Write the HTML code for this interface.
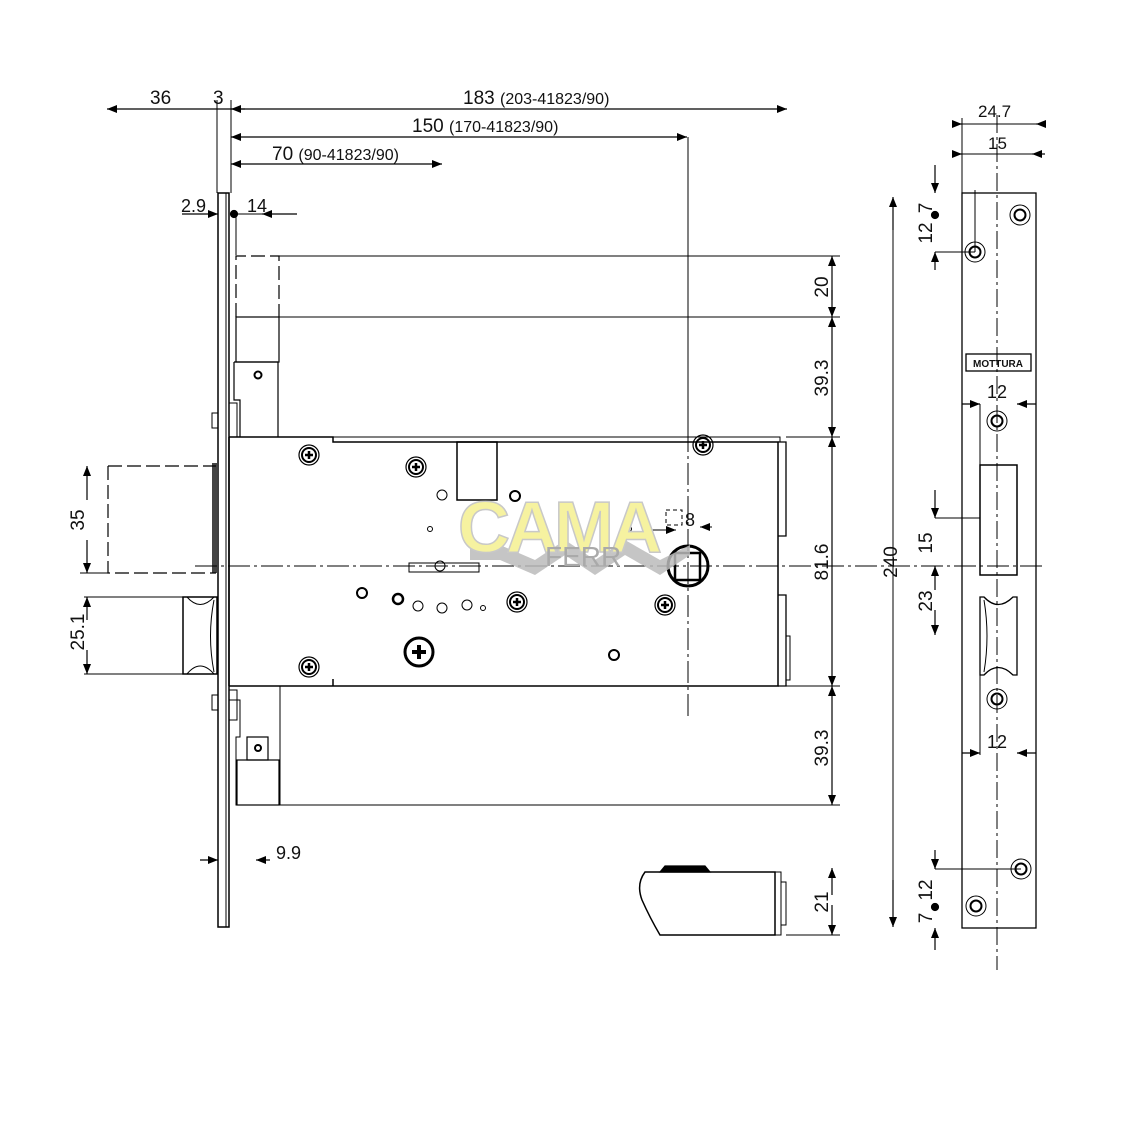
<!DOCTYPE html>
<html><head><meta charset="utf-8"><style>
html,body{margin:0;padding:0;background:#fff}
svg{display:block}
text{font-family:"Liberation Sans",sans-serif;font-size:19px;fill:#111}
</style></head><body>
<svg width="1124" height="1124" viewBox="0 0 1124 1124" xmlns="http://www.w3.org/2000/svg">
<defs>
<marker id="a" viewBox="0 0 10 10" refX="10" refY="5" markerWidth="14" markerHeight="10" markerUnits="userSpaceOnUse" orient="auto"><path d="M0,1 L10,5 L0,9z" fill="#000"/></marker>
<marker id="b" viewBox="0 0 10 10" refX="0" refY="5" markerWidth="14" markerHeight="10" markerUnits="userSpaceOnUse" orient="auto"><path d="M10,1 L0,5 L10,9z" fill="#000"/></marker>
<g id="sc"><circle r="10" fill="none" stroke="#000" stroke-width="1.2"/><circle r="7" fill="none" stroke="#000" stroke-width="2"/><path d="M-4,0H4M0,-4V4" stroke="#000" stroke-width="2.5"/></g>
<g id="hole"><circle r="10" fill="none" stroke="#000" stroke-width="1"/><circle r="5.5" fill="none" stroke="#000" stroke-width="2"/></g>
</defs>
<g stroke="#000" fill="none" stroke-width="1.2">
<line x1="217" y1="100" x2="217" y2="193" stroke-width="1"/>
<line x1="231" y1="100" x2="231" y2="193" stroke-width="1"/>
<line x1="107" y1="109" x2="217" y2="109" marker-start="url(#b)"/>
<line x1="217" y1="109" x2="787" y2="109" marker-end="url(#a)"/>
<line x1="231" y1="109" x2="245" y2="109" marker-start="url(#b)"/>
<line x1="231" y1="137" x2="687" y2="137" marker-start="url(#b)" marker-end="url(#a)"/>
<line x1="231" y1="164" x2="442" y2="164" marker-start="url(#b)" marker-end="url(#a)"/>
<line x1="688" y1="137" x2="688" y2="430" stroke-width="1"/>
<line x1="688" y1="430" x2="688" y2="716" stroke-width="1" stroke-dasharray="22,4,3,4"/>
<line x1="182" y1="214" x2="218" y2="214" marker-end="url(#a)"/>
<line x1="297" y1="214" x2="262" y2="214" marker-end="url(#a)"/>
<line x1="234" y1="214" x2="262" y2="214" stroke-width="1"/>
<circle cx="234" cy="214" r="3.5" fill="#000"/>
<line x1="236" y1="214" x2="236" y2="255" stroke-width="1"/>
<rect x="218" y="193" width="11" height="734" stroke-width="1.5"/>
<line x1="226" y1="193" x2="226" y2="927" stroke-width="1"/>
<path d="M236,317 V256 H279 V317" stroke-dasharray="14,5"/>
<rect x="236" y="317" width="43" height="45"/>
<path d="M234,362 H278 M234,362 V400 H240 V437 M278,362 V437"/>
<circle cx="258" cy="375" r="3.5" stroke-width="2"/>
<rect x="212" y="413" width="6" height="15" stroke-width="1"/>
<rect x="229" y="403" width="8" height="34" stroke-width="1"/>
<line x1="279" y1="256" x2="840" y2="256" stroke-width="1"/>
<line x1="279" y1="317" x2="840" y2="317" stroke-width="1"/>
<path d="M229,437 H333 V442 H778 V686 H333 V679 M229,686 H333" stroke-width="1.5"/>
<path d="M333,437 H780 V442 M333,686 H780" stroke-width="1"/>
<line x1="229" y1="437" x2="229" y2="686" stroke-width="1.5"/>
<path d="M778,442 H786 V536 H778 M778,595 H786 V686 H778" stroke-width="1.3"/>
<path d="M786,636 H790 V680 H786" stroke-width="1"/>
<rect x="457" y="442" width="40" height="58" stroke-width="1.5"/>
<rect x="212" y="463" width="5" height="110" fill="#444" stroke="none"/>
<path d="M229,686 H280 V805 H236 V737 H240 V700 H229" stroke-width="1"/>
<rect x="237" y="760" width="42" height="45"/>
<rect x="247" y="737" width="21" height="23"/>
<circle cx="258" cy="748" r="3" stroke-width="2"/>
<rect x="212" y="695" width="6" height="15" stroke-width="1"/>
<rect x="229" y="690" width="8" height="30" stroke-width="1"/>
<line x1="280" y1="805" x2="840" y2="805" stroke-width="1"/>
<line x1="786" y1="437" x2="840" y2="437" stroke-width="1"/>
<line x1="786" y1="686" x2="840" y2="686" stroke-width="1"/>
<line x1="832" y1="300" x2="832" y2="256" marker-end="url(#a)"/>
<line x1="832" y1="290" x2="832" y2="317" marker-end="url(#a)"/>
<line x1="832" y1="330" x2="832" y2="317" marker-end="url(#a)"/>
<line x1="832" y1="330" x2="832" y2="437" marker-end="url(#a)"/>
<line x1="832" y1="450" x2="832" y2="437" marker-end="url(#a)"/>
<line x1="832" y1="450" x2="832" y2="686" marker-end="url(#a)"/>
<line x1="832" y1="700" x2="832" y2="686" marker-end="url(#a)"/>
<line x1="832" y1="700" x2="832" y2="805" marker-end="url(#a)"/>
<path d="M108,466 H216 M108,466 V573 H216" stroke-dasharray="14,5"/>
<line x1="87" y1="500" x2="87" y2="466" marker-end="url(#a)"/>
<line x1="87" y1="540" x2="87" y2="573" marker-end="url(#a)"/>
<line x1="80" y1="573" x2="108" y2="573" stroke-width="1"/>
<rect x="183" y="597" width="34" height="77" stroke-width="1.5"/>
<path d="M187,597 Q200,612 214,597 M187,674 Q200,658 214,674 M214,600 Q207,636 214,672" stroke-width="1"/>
<line x1="84" y1="597" x2="183" y2="597" stroke-width="1"/>
<line x1="84" y1="674" x2="183" y2="674" stroke-width="1"/>
<line x1="87" y1="620" x2="87" y2="597" marker-end="url(#a)"/>
<line x1="87" y1="650" x2="87" y2="674" marker-end="url(#a)"/>
<line x1="195" y1="566" x2="1045" y2="566" stroke-width="1" stroke-dasharray="22,4,3,4"/>
<use href="#sc" x="309" y="455"/><use href="#sc" x="416" y="467"/><use href="#sc" x="703" y="445"/>
<use href="#sc" x="517" y="602"/><use href="#sc" x="665" y="605"/><use href="#sc" x="309" y="667"/>
<circle cx="442" cy="495" r="5" stroke-width="1"/><circle cx="515" cy="496" r="5" stroke-width="2"/>
<circle cx="430" cy="529" r="2.5" stroke-width="1"/>
<rect x="409" y="563" width="70" height="9" stroke-width="1"/>
<circle cx="440" cy="566" r="5" stroke-width="1"/>
<circle cx="362" cy="593" r="5" stroke-width="2"/><circle cx="398" cy="599" r="5" stroke-width="2.5"/>
<circle cx="418" cy="606" r="5" stroke-width="1"/><circle cx="442" cy="608" r="5" stroke-width="1"/>
<circle cx="467" cy="605" r="5" stroke-width="1"/><circle cx="483" cy="608" r="2.5" stroke-width="1"/>
<circle cx="419" cy="652" r="14" stroke-width="3"/>
<path d="M412,652 H426 M419,645 V659" stroke-width="4"/>
<circle cx="614" cy="655" r="5" stroke-width="2"/>
<circle cx="688" cy="566" r="20" stroke-width="3"/>
<rect x="675" y="553" width="25" height="27" stroke-width="2.5"/>
<rect x="666" y="510" width="16" height="15" stroke-width="1" stroke-dasharray="4,3"/>
<line x1="650" y1="530" x2="676" y2="530" marker-end="url(#a)" stroke-width="1"/>
<line x1="712" y1="527" x2="700" y2="527" marker-end="url(#a)" stroke-width="1"/>
<circle cx="629" cy="529" r="2.5" stroke-width="1"/>
<line x1="200" y1="860" x2="218" y2="860" marker-end="url(#a)"/>
<line x1="270" y1="860" x2="256" y2="860" marker-end="url(#a)"/>
<path d="M645,872 H775 V935 H660 Q650,918 642,900 Q636,884 645,872z" stroke-width="1.5"/>
<path d="M660,872 L665,866 H705 L710,872z" fill="#000"/>
<path d="M775,872 H781 V935 H775 M781,882 H786 V925 H781" stroke-width="1"/>
<line x1="786" y1="935" x2="840" y2="935" stroke-width="1"/>
<line x1="832" y1="895" x2="832" y2="868" marker-end="url(#a)"/>
<line x1="832" y1="905" x2="832" y2="935" marker-end="url(#a)"/>
<rect x="962" y="193" width="74" height="735" stroke-width="1.3"/>
<line x1="997" y1="115" x2="997" y2="970" stroke-width="1" stroke-dasharray="18,4,3,4"/>
<line x1="955" y1="124" x2="962" y2="124" marker-end="url(#a)"/>
<line x1="1045" y1="124" x2="1036" y2="124" marker-end="url(#a)"/>
<line x1="962" y1="124" x2="1036" y2="124" stroke-width="1"/>
<line x1="955" y1="154" x2="962" y2="154" marker-end="url(#a)"/>
<line x1="1045" y1="154" x2="1032" y2="154" marker-end="url(#a)"/>
<line x1="962" y1="154" x2="1032" y2="154" stroke-width="1"/>
<line x1="962" y1="118" x2="962" y2="193" stroke-width="1"/>
<line x1="975" y1="190" x2="975" y2="252" stroke-width="1"/>
<line x1="893" y1="230" x2="893" y2="197" marker-end="url(#a)"/>
<line x1="893" y1="880" x2="893" y2="927" marker-end="url(#a)"/>
<line x1="893" y1="230" x2="893" y2="880" stroke-width="1"/>
<line x1="935" y1="165" x2="935" y2="193" marker-end="url(#a)"/>
<line x1="935" y1="270" x2="935" y2="252" marker-end="url(#a)"/>
<line x1="935" y1="252" x2="975" y2="252" stroke-width="1"/>
<circle cx="935" cy="215" r="3.5" fill="#000"/>
<use href="#hole" x="975" y="252"/><use href="#hole" x="1020" y="215"/>
<use href="#hole" x="997" y="421"/><use href="#hole" x="997" y="699"/>
<use href="#hole" x="1021" y="869"/><use href="#hole" x="976" y="906"/>
<rect x="966" y="354" width="65" height="17" stroke-width="1.3"/>
<line x1="962" y1="404" x2="980" y2="404" marker-end="url(#a)"/>
<line x1="1036" y1="404" x2="1017" y2="404" marker-end="url(#a)"/>
<line x1="980" y1="404" x2="980" y2="466" stroke-width="1"/>
<rect x="980" y="465" width="37" height="110" stroke-width="1.5"/>
<line x1="935" y1="490" x2="935" y2="518" marker-end="url(#a)"/>
<line x1="935" y1="518" x2="980" y2="518" stroke-width="1"/>
<line x1="935" y1="590" x2="935" y2="566" marker-end="url(#a)"/>
<line x1="935" y1="610" x2="935" y2="635" marker-end="url(#a)"/>
<path d="M980,597 H984 Q998,612 1013,597 H1017 V675 H1013 Q998,660 984,675 H980z" stroke-width="1.3"/>
<path d="M984,600 Q990,636 984,672" stroke-width="1"/>
<line x1="980" y1="675" x2="980" y2="755" stroke-width="1"/>
<line x1="962" y1="753" x2="980" y2="753" marker-end="url(#a)"/>
<line x1="1036" y1="753" x2="1017" y2="753" marker-end="url(#a)"/>
<line x1="935" y1="850" x2="935" y2="869" marker-end="url(#a)"/>
<line x1="935" y1="869" x2="1021" y2="869" stroke-width="1"/>
<line x1="935" y1="950" x2="935" y2="928" marker-end="url(#a)"/>
<circle cx="935" cy="907" r="3.5" fill="#000"/>
</g>
<g>
<path d="M470,545 L500,545 L535,560 L565,540 L595,560 L625,540 L660,560 L690,545 L690,555 L660,575 L625,555 L595,575 L565,555 L535,575 L500,560 L470,560z" fill="#bbb" opacity="0.85"/>
<text x="458" y="552" style="font-size:72px;fill:#f6f2a0;stroke:#c8c8c8;stroke-width:1.5;font-weight:bold;letter-spacing:-4px">CAMA</text>
<text x="545" y="566" style="font-size:28px;fill:#aaa">FERR</text>
</g>
<text x="150" y="104">36</text>
<text x="213" y="104">3</text>
<text x="463" y="104">183 <tspan style="font-size:16px">(203-41823/90)</tspan></text>
<text x="412" y="132">150 <tspan style="font-size:16px">(170-41823/90)</tspan></text>
<text x="272" y="160">70 <tspan style="font-size:16px">(90-41823/90)</tspan></text>
<text x="181" y="212" style="font-size:18px">2.9</text>
<text x="247" y="212" style="font-size:18px">14</text>
<text x="276" y="859" style="font-size:18px">9.9</text>
<text x="685" y="526" style="font-size:18px">8</text>
<g style="font-size:19px">
<text transform="translate(828,287) rotate(-90)" text-anchor="middle">20</text>
<text transform="translate(828,378) rotate(-90)" text-anchor="middle">39.3</text>
<text transform="translate(828,562) rotate(-90)" text-anchor="middle">81.6</text>
<text transform="translate(828,748) rotate(-90)" text-anchor="middle">39.3</text>
<text transform="translate(828,902) rotate(-90)" text-anchor="middle">21</text>
<text transform="translate(84,520) rotate(-90)" text-anchor="middle">35</text>
<text transform="translate(84,632) rotate(-90)" text-anchor="middle">25.1</text>
<text transform="translate(897,562) rotate(-90)" text-anchor="middle">240</text>
<text transform="translate(932,233) rotate(-90)" text-anchor="middle">12</text>
<text transform="translate(932,208) rotate(-90)" text-anchor="middle">7</text>
<text transform="translate(932,543) rotate(-90)" text-anchor="middle">15</text>
<text transform="translate(932,601) rotate(-90)" text-anchor="middle">23</text>
<text transform="translate(932,890) rotate(-90)" text-anchor="middle">12</text>
<text transform="translate(932,918) rotate(-90)" text-anchor="middle">7</text>
</g>
<text x="978" y="117" style="font-size:17px">24.7</text>
<text x="988" y="149" style="font-size:17px">15</text>
<text x="987" y="398" style="font-size:18px">12</text>
<text x="987" y="748" style="font-size:18px">12</text>
<text x="998" y="367" text-anchor="middle" style="font-size:10px;font-weight:bold">MOTTURA</text>
</svg>
</body></html>
